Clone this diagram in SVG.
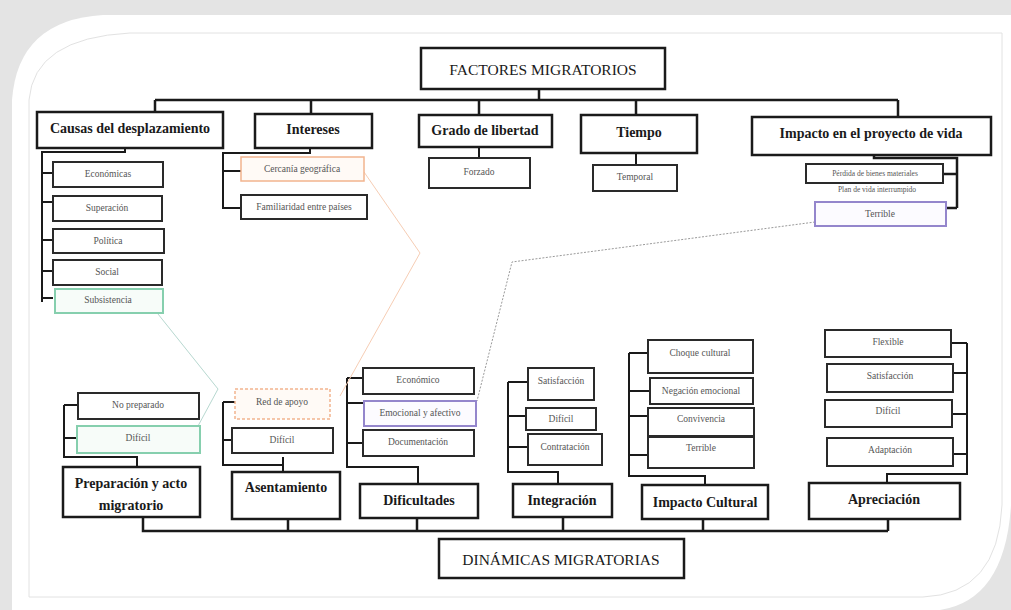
<svg xmlns="http://www.w3.org/2000/svg" width="1011" height="610" viewBox="0 0 1011 610">
<style>
.h{fill:#fff;stroke:#1a1a1a;stroke-width:2.5}
.s{fill:#fff;stroke:#2a2a2a;stroke-width:2}
.g{fill:#f7fcf9;stroke:#86cfae;stroke-width:2}
.o{fill:#fffaf6;stroke:#f2b48e;stroke-width:1.5}
.od{fill:#fffaf6;stroke:#f2b48e;stroke-width:1.5;stroke-dasharray:3 2}
.p{fill:#fcfbff;stroke:#9486cc;stroke-width:2}
.ht{font-family:"Liberation Serif",serif;font-weight:bold;font-size:14px;fill:#1a1a1a;text-anchor:middle;dominant-baseline:central}
.tt{font-family:"Liberation Serif",serif;font-size:15.5px;fill:#1a1a1a;text-anchor:middle;dominant-baseline:central}
.st{font-family:"Liberation Serif",serif;font-size:9.5px;fill:#555;text-anchor:middle;dominant-baseline:central}
.xt{font-family:"Liberation Serif",serif;font-size:7.5px;fill:#555;text-anchor:middle;dominant-baseline:central}
.c{fill:none;stroke:#1a1a1a;stroke-width:2.5}
.cs{fill:none;stroke:#1a1a1a;stroke-width:2}
</style>
<rect x="0" y="0" width="1011" height="610" fill="#e4e4e4"/>
<path d="M103,15 L1011,15 L1011,505 Q1005,600 940,610 L12,610 L12,100 Q18,20 103,15 Z" fill="#ffffff"/>
<path d="M130,33 L1002,33 L1002,505 Q998,594 923,597 L29,597 L29,100 Q34,38 130,33 Z" fill="none" stroke="#e2e2e2" stroke-width="1"/>

<g id="connectors">
<path class="c" d="M539,89 V100 M155,100 H898 M155,100 V112 M311,100 V114 M479,100 V115 M636,100 V115 M898,100 V117"/>
<path class="cs" d="M125,148 V152 H42 V302 M42,173 H53 M42,202 H53 M42,240 H53 M42,271 H53 M42,298 H53"/>
<path class="cs" d="M310,148 V153 H223 V209 M223,171 H241 M223,208 H241"/>
<path class="cs" d="M479,147 V158"/>
<path class="cs" d="M636,153 V165"/>
<path class="c" d="M874,155 V158 H957 V208 M943,174 H957 M946,208 H957"/>
<path class="c" d="M143,517 V531 H888 M288,519 V531 M417,518 V531 M563,517 V531 M703,519 V531 M888,519 V531"/>
<path class="cs" d="M137,467 V457 H64 V405 M64,405 H78 M64,438 H77"/>
<path class="cs" d="M283,472 V457 M283,465 H223 V402 M223,402 H235 M223,440 H232"/>
<path class="cs" d="M418,484 V467 H347 V378 M347,378 H363 M347,403 H364 M347,443 H363"/>
<path class="cs" d="M558,484 V472 H508 V382 M508,382 H528 M508,416 H526 M508,447 H528"/>
<path class="cs" d="M705,485 V476 H629 V353 M629,353 H648 M629,391 H650 M629,416 H648 M629,455 H648"/>
<path class="cs" d="M887,483 V474 H967 V343 M951,343 H967 M953,373 H967 M952,414 H967 M953,454 H967"/>
<path d="M158,314 L218,389 L198,426" fill="none" stroke="#b7d8d0" stroke-width="1"/>
<path d="M364,172 L420,253 L340,396" fill="none" stroke="#f6cdb4" stroke-width="1"/>
<path d="M815,222 L512,262 L477,401" fill="none" stroke="#9a9a9a" stroke-width="1" stroke-dasharray="2 1.5"/>
</g>

<g id="factores"><rect class="h" x="421" y="48" width="244" height="41"/><text class="tt" x="543" y="69">FACTORES MIGRATORIOS</text></g>
<g id="causas"><rect class="h" x="37" y="112" width="186" height="36"/><text class="ht" x="130" y="128">Causas del desplazamiento</text></g>
<g id="intereses"><rect class="h" x="255" y="114" width="117" height="34"/><text class="ht" x="313" y="129">Intereses</text></g>
<g id="grado"><rect class="h" x="419" y="115" width="133" height="32"/><text class="ht" x="485" y="130">Grado de libertad</text></g>
<g id="tiempo"><rect class="h" x="581" y="115" width="116" height="38"/><text class="ht" x="639" y="132">Tiempo</text></g>
<g id="impacto-vida"><rect class="h" x="752" y="117" width="239" height="38"/><text class="ht" x="871" y="133">Impacto en el proyecto de vida</text></g>

<g id="economicas"><rect class="s" x="53" y="162" width="110" height="25"/><text class="st" x="108" y="174">Económicas</text></g>
<g id="superacion"><rect class="s" x="53" y="196" width="109" height="25"/><text class="st" x="107" y="208">Superación</text></g>
<g id="politica"><rect class="s" x="53" y="229" width="111" height="24"/><text class="st" x="108" y="241">Política</text></g>
<g id="social"><rect class="s" x="53" y="260" width="109" height="25"/><text class="st" x="107" y="272">Social</text></g>
<g id="subsistencia"><rect class="g" x="55" y="289" width="108" height="24"/><text class="st" x="108" y="300">Subsistencia</text></g>

<g id="cercania"><rect class="o" x="241" y="157" width="123" height="24"/><text class="st" x="302" y="169">Cercanía geográfica</text></g>
<g id="familiaridad"><rect class="s" x="241" y="195" width="126" height="24"/><text class="st" x="304" y="207">Familiaridad entre países</text></g>
<g id="forzado"><rect class="s" x="429" y="158" width="101" height="30"/><text class="st" x="479" y="172">Forzado</text></g>
<g id="temporal"><rect class="s" x="593" y="165" width="84" height="26"/><text class="st" x="635" y="177">Temporal</text></g>
<g id="perdida"><rect class="s" x="806" y="164" width="137" height="19"/><text class="xt" x="875" y="173">Pérdida de bienes materiales</text></g>
<g id="plan"><text class="xt" x="877" y="189">Plan de vida interrumpido</text></g>
<g id="terrible-vida"><rect class="p" x="815" y="202" width="131" height="24"/><text class="st" x="880" y="214">Terrible</text></g>

<g id="preparacion"><rect class="h" x="63" y="467" width="137" height="50"/><text class="ht" x="131" y="483">Preparación y acto</text><text class="ht" x="131" y="505">migratorio</text></g>
<g id="asentamiento"><rect class="h" x="232" y="472" width="108" height="47"/><text class="ht" x="286" y="487">Asentamiento</text></g>
<g id="dificultades"><rect class="h" x="360" y="484" width="118" height="34"/><text class="ht" x="419" y="500">Dificultades</text></g>
<g id="integracion"><rect class="h" x="513" y="484" width="99" height="33"/><text class="ht" x="562" y="500">Integración</text></g>
<g id="impacto-cultural"><rect class="h" x="642" y="485" width="126" height="34"/><text class="ht" x="705" y="502">Impacto Cultural</text></g>
<g id="apreciacion"><rect class="h" x="809" y="483" width="151" height="36"/><text class="ht" x="884" y="499">Apreciación</text></g>
<g id="dinamicas"><rect class="h" x="439" y="539" width="245" height="39"/><text class="tt" x="561" y="559">DINÁMICAS MIGRATORIAS</text></g>

<g id="no-preparado"><rect class="s" x="78" y="393" width="121" height="26"/><text class="st" x="138" y="405">No preparado</text></g>
<g id="dificil-prep"><rect class="g" x="77" y="426" width="123" height="27"/><text class="st" x="138" y="438">Difícil</text></g>
<g id="red-apoyo"><rect class="od" x="235" y="389" width="95" height="30"/><text class="st" x="282" y="402">Red de apoyo</text></g>
<g id="dificil-asent"><rect class="s" x="232" y="428" width="101" height="25"/><text class="st" x="282" y="440">Difícil</text></g>
<g id="economico"><rect class="s" x="363" y="368" width="111" height="26"/><text class="st" x="418" y="380">Económico</text></g>
<g id="emocional"><rect class="p" x="364" y="401" width="112" height="25"/><text class="st" x="420" y="413">Emocional y afectivo</text></g>
<g id="documentacion"><rect class="s" x="363" y="430" width="111" height="26"/><text class="st" x="418" y="442">Documentación</text></g>
<g id="satisfaccion-int"><rect class="s" x="528" y="368" width="66" height="32"/><text class="st" x="561" y="381">Satisfacción</text></g>
<g id="dificil-int"><rect class="s" x="526" y="408" width="70" height="22"/><text class="st" x="561" y="419">Difícil</text></g>
<g id="contratacion"><rect class="s" x="528" y="434" width="74" height="31"/><text class="st" x="565" y="447">Contratación</text></g>
<g id="choque"><rect class="s" x="648" y="340" width="105" height="33"/><text class="st" x="700" y="353">Choque cultural</text></g>
<g id="negacion"><rect class="s" x="650" y="378" width="103" height="26"/><text class="st" x="701" y="391">Negación emocional</text></g>
<g id="convivencia"><rect class="s" x="648" y="408" width="106" height="28"/><text class="st" x="701" y="419">Convivencia</text></g>
<g id="terrible-cult"><rect class="s" x="648" y="437" width="106" height="31"/><text class="st" x="701" y="448">Terrible</text></g>
<g id="flexible"><rect class="s" x="825" y="330" width="126" height="27"/><text class="st" x="888" y="342">Flexible</text></g>
<g id="satisfaccion-apr"><rect class="s" x="827" y="364" width="126" height="28"/><text class="st" x="890" y="376">Satisfacción</text></g>
<g id="dificil-apr"><rect class="s" x="825" y="400" width="127" height="27"/><text class="st" x="888" y="411">Difícil</text></g>
<g id="adaptacion"><rect class="s" x="827" y="438" width="126" height="28"/><text class="st" x="890" y="450">Adaptación</text></g>
</svg>
